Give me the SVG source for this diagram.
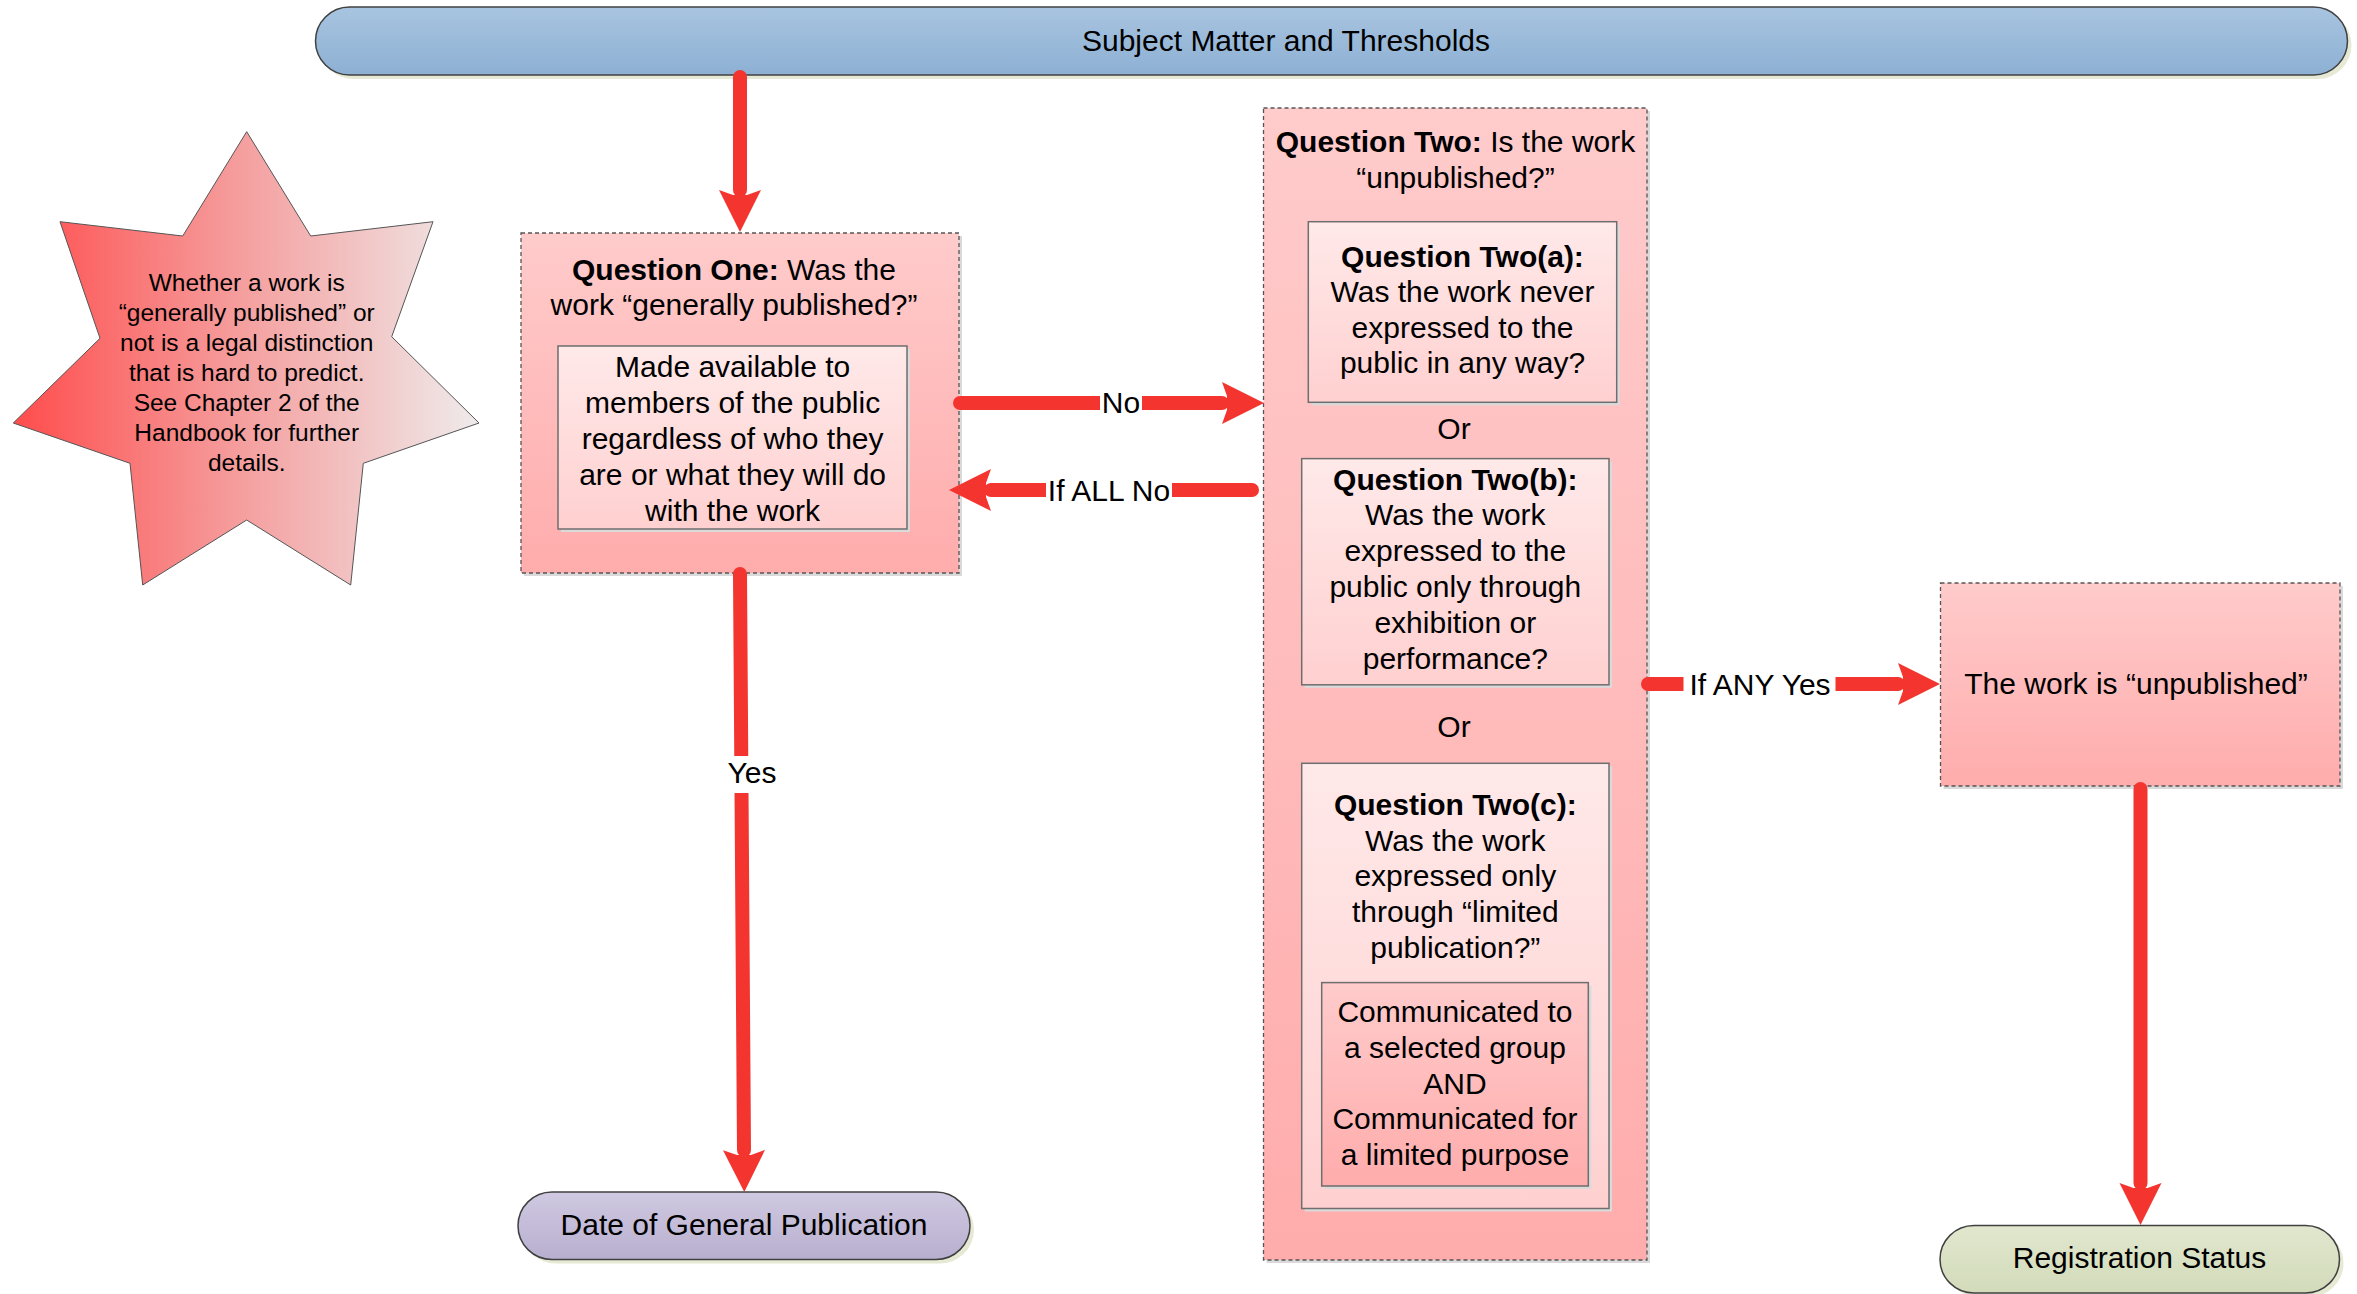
<svg xmlns="http://www.w3.org/2000/svg" width="2357" height="1294" viewBox="0 0 2357 1294">
<defs>
<linearGradient id="gBlue" x1="0" y1="0" x2="0" y2="1"><stop offset="0" stop-color="#A8C4E0"/><stop offset="1" stop-color="#8DB0D3"/></linearGradient>
<linearGradient id="gLav" x1="0" y1="0" x2="0" y2="1"><stop offset="0" stop-color="#D0C9E1"/><stop offset="1" stop-color="#B8AFCF"/></linearGradient>
<linearGradient id="gGreen" x1="0" y1="0" x2="0" y2="1"><stop offset="0" stop-color="#E1E7CE"/><stop offset="1" stop-color="#D2DBBA"/></linearGradient>
<linearGradient id="gPink" x1="0" y1="0" x2="0" y2="1"><stop offset="0" stop-color="#FFCBCB"/><stop offset="1" stop-color="#FFACAC"/></linearGradient>
<linearGradient id="gLight" x1="0" y1="0" x2="0" y2="1"><stop offset="0" stop-color="#FFE9E9"/><stop offset="1" stop-color="#FFD0D0"/></linearGradient>
<linearGradient id="gStar" gradientUnits="userSpaceOnUse" x1="13" y1="0" x2="479" y2="0"><stop offset="0" stop-color="#FF4C4C"/><stop offset="0.5" stop-color="#F5A0A0"/><stop offset="1" stop-color="#EFEBEB"/></linearGradient>
<marker id="ah" markerUnits="userSpaceOnUse" markerWidth="50" markerHeight="50" viewBox="0 -25 50 50" refX="0" refY="0" orient="auto" overflow="visible">
<path d="M42,0 L0,-21 L5,-7 L5,7 L0,21 Z" fill="#F3342F"/>
</marker>
<style>
text{font-family:"Liberation Sans",Arial,sans-serif;font-size:30px;fill:#000;text-anchor:middle}
.b{font-weight:bold}
.star{font-size:24.5px}
.term{stroke:#404040;stroke-width:1.5}
.dash{fill:url(#gPink);stroke:#555;stroke-width:1.3;stroke-dasharray:4 3}
.light{fill:url(#gLight);stroke:#6E6E6E;stroke-width:1.5}
.shadowT{fill:#E6EAD4}
.shadowB{fill:#DADADA}
.conn{fill:none;stroke:#F3342F;stroke-width:14;stroke-linecap:round;marker-end:url(#ah)}
.lbl{fill:#fff}
</style>
</defs>

<g id="subject-matter">
<rect class="shadowT" x="319.5" y="11" width="2032" height="68" rx="34"/>
<rect class="term" x="315.5" y="7" width="2032" height="68" rx="34" fill="url(#gBlue)"/>
<text x="1286" y="51">Subject Matter and Thresholds</text>
</g>

<g id="note-star">
<polygon points="246.7,131.7 310.7,236 433,221.7 391.7,336.7 479,423 363.3,463.3 350.7,585 246.7,520 142.7,585 130,463.3 13.3,423 100,338.3 60,221.7 182.7,236" fill="url(#gStar)" stroke="#555" stroke-width="1"/>
<text class="star" x="246.7" y="290.7">Whether a work is</text>
<text class="star" x="246.7" y="320.7">“generally published” or</text>
<text class="star" x="246.7" y="350.7">not is a legal distinction</text>
<text class="star" x="246.7" y="380.7">that is hard to predict.</text>
<text class="star" x="246.7" y="410.7">See Chapter 2 of the</text>
<text class="star" x="246.7" y="440.7">Handbook for further</text>
<text class="star" x="246.7" y="470.7">details.</text>
</g>

<g id="question-one">
<rect class="shadowB" x="524" y="236" width="438" height="340"/>
<rect class="dash" x="521" y="233" width="438" height="340"/>
<text x="734" y="279.5"><tspan class="b">Question One:</tspan> Was the</text>
<text x="734" y="314.5">work “generally published?”</text>
<rect class="shadowB" x="561" y="349" width="349" height="183"/>
<rect class="light" x="558" y="346" width="349" height="183"/>
<text x="732.6" y="377">Made available to</text>
<text x="732.6" y="413">members of the public</text>
<text x="732.6" y="449">regardless of who they</text>
<text x="732.6" y="485">are or what they will do</text>
<text x="732.6" y="521">with the work</text>
</g>

<g id="question-two">
<rect class="shadowB" x="1266.5" y="111" width="383.5" height="1152"/>
<rect class="dash" x="1263.5" y="108" width="383.5" height="1152"/>
<text x="1455.5" y="152"><tspan class="b">Question Two:</tspan> Is the work</text>
<text x="1455.5" y="187.5">“unpublished?”</text>
<g id="question-two-a">
<rect class="shadowB" x="1311.3" y="224.7" width="308.4" height="180.6"/>
<rect class="light" x="1308.3" y="221.7" width="308.4" height="180.6"/>
<text class="b" x="1462.5" y="266.5">Question Two(a):</text>
<text x="1462.5" y="302">Was the work never</text>
<text x="1462.5" y="337.5">expressed to the</text>
<text x="1462.5" y="373">public in any way?</text>
</g>
<text x="1454" y="439">Or</text>
<g id="question-two-b">
<rect class="shadowB" x="1304.7" y="461.6" width="307.3" height="226.2"/>
<rect class="light" x="1301.7" y="458.6" width="307.3" height="226.2"/>
<text class="b" x="1455.3" y="489.6">Question Two(b):</text>
<text x="1455.3" y="525">Was the work</text>
<text x="1455.3" y="560.5">expressed to the</text>
<text x="1455.3" y="596.5">public only through</text>
<text x="1455.3" y="632.5">exhibition or</text>
<text x="1455.3" y="668.5">performance?</text>
</g>
<text x="1454" y="737">Or</text>
<g id="question-two-c">
<rect class="shadowB" x="1304.7" y="766.3" width="307.3" height="445.2"/>
<rect class="light" x="1301.7" y="763.3" width="307.3" height="445.2"/>
<text class="b" x="1455.3" y="815">Question Two(c):</text>
<text x="1455.3" y="850.5">Was the work</text>
<text x="1455.3" y="886">expressed only</text>
<text x="1455.3" y="922">through “limited</text>
<text x="1455.3" y="958">publication?”</text>
<rect class="shadowB" x="1324.7" y="985.6" width="266.6" height="203.4"/>
<rect x="1321.7" y="982.6" width="266.6" height="203.4" fill="url(#gPink)" stroke="#6E6E6E" stroke-width="1.5"/>
<text x="1455" y="1021.7">Communicated to</text>
<text x="1455" y="1057.5">a selected group</text>
<text x="1455" y="1093.5">AND</text>
<text x="1455" y="1129.3">Communicated for</text>
<text x="1455" y="1165.4">a limited purpose</text>
</g>
</g>

<g id="unpublished">
<rect class="shadowB" x="1943.5" y="586" width="399.5" height="203"/>
<rect class="dash" x="1940.5" y="583" width="399.5" height="203"/>
<text x="2136" y="694">The work is “unpublished”</text>
</g>

<g id="date-general-publication">
<rect class="shadowT" x="522" y="1196" width="452" height="67.5" rx="34"/>
<rect class="term" x="518" y="1192" width="452" height="67.5" rx="34" fill="url(#gLav)"/>
<text x="744" y="1235">Date of General Publication</text>
</g>

<g id="registration-status">
<rect class="shadowT" x="1944" y="1229.5" width="399.5" height="67.5" rx="34"/>
<rect class="term" x="1940" y="1225.5" width="399.5" height="67.5" rx="34" fill="url(#gGreen)"/>
<text x="2139.5" y="1268.3">Registration Status</text>
</g>

<g id="connectors">
<path class="conn" d="M740,77 L740,190"/>
<path class="conn" d="M960,403 L1222,403"/>
<rect class="lbl" x="1100" y="385" width="42" height="36"/>
<text x="1121" y="412.5">No</text>
<path class="conn" d="M1252,490 L991,490"/>
<rect class="lbl" x="1046" y="472" width="126" height="36"/>
<text x="1109" y="500.5">If ALL No</text>
<path class="conn" d="M740,574 L744,1150"/>
<rect class="lbl" x="724" y="756" width="57" height="37"/>
<text x="752" y="783">Yes</text>
<path class="conn" d="M1648,684 L1898,684"/>
<rect class="lbl" x="1683.5" y="666" width="152" height="36"/>
<text x="1760" y="694.5">If ANY Yes</text>
<path class="conn" d="M2140.5,789 L2140.5,1183"/>
</g>
</svg>
